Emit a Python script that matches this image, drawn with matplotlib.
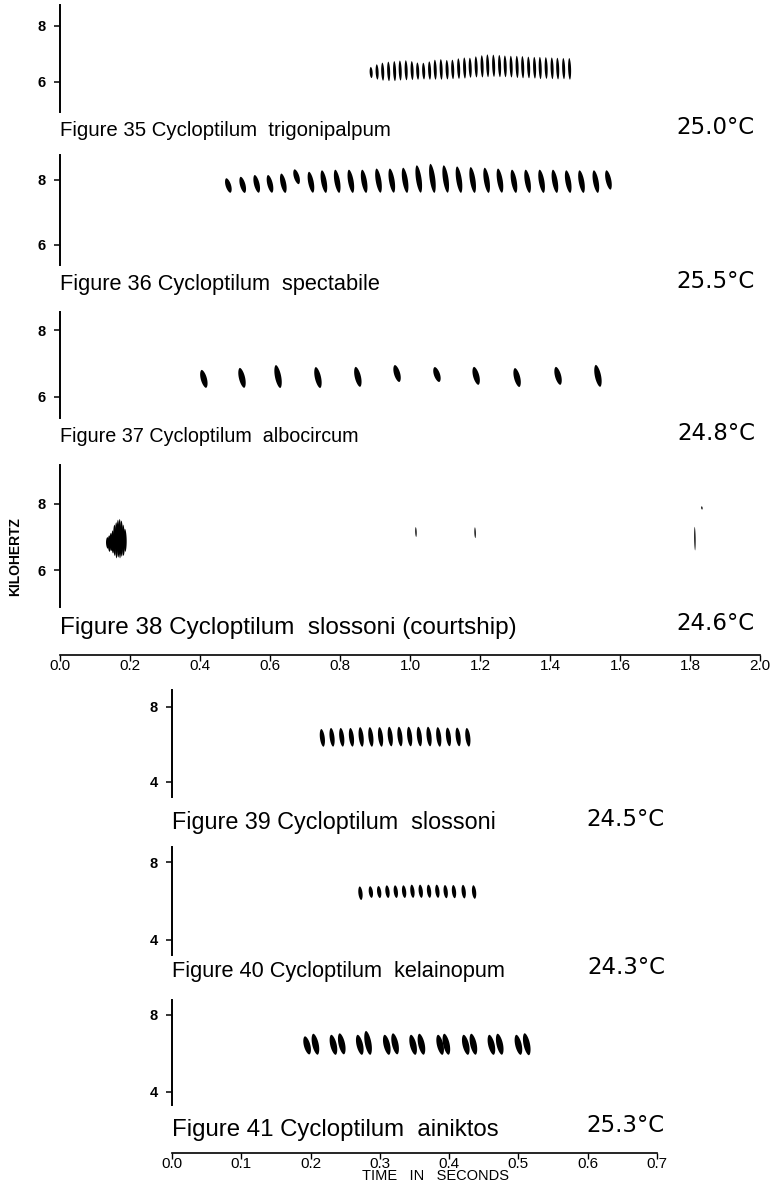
import numpy as np
import matplotlib
matplotlib.use("Agg")
import matplotlib.pyplot as plt

plt.rcParams['font.family'] = ['Liberation Sans', 'DejaVu Sans']

W, H = 774, 1185

# ---- pulse data: time (s), centre frequency (kHz), pulse height (kHz)
t35 = [0.889, 0.906, 0.922, 0.939, 0.956, 0.972, 0.989, 1.006, 1.022, 1.039, 1.056, 1.072,
       1.089, 1.106, 1.122, 1.139, 1.156, 1.172, 1.189, 1.206, 1.222, 1.239, 1.256, 1.272,
       1.289, 1.306, 1.322, 1.339, 1.356, 1.372, 1.389, 1.406, 1.422, 1.439, 1.456]
f35 = [6.33, 6.35, 6.36, 6.37, 6.38, 6.40, 6.41, 6.40, 6.38, 6.38, 6.40, 6.43,
       6.44, 6.43, 6.44, 6.47, 6.49, 6.50, 6.53, 6.55, 6.57, 6.57, 6.56, 6.55,
       6.54, 6.53, 6.52, 6.51, 6.50, 6.49, 6.49, 6.48, 6.47, 6.47, 6.46]
h35 = [0.40, 0.55, 0.65, 0.70, 0.72, 0.72, 0.72, 0.68, 0.62, 0.60, 0.66, 0.72,
       0.74, 0.70, 0.70, 0.74, 0.76, 0.72, 0.76, 0.80, 0.82, 0.80, 0.80, 0.78,
       0.78, 0.80, 0.80, 0.78, 0.78, 0.80, 0.78, 0.78, 0.78, 0.76, 0.78]

t36 = [0.481, 0.522, 0.562, 0.600, 0.638, 0.676, 0.717, 0.754, 0.792, 0.831, 0.869, 0.910,
       0.948, 0.986, 1.025, 1.064, 1.102, 1.140, 1.179, 1.219, 1.257, 1.297, 1.336, 1.376,
       1.414, 1.452, 1.490, 1.531, 1.567]
f36 = [7.83, 7.85, 7.88, 7.88, 7.90, 8.10, 7.93, 7.95, 7.96, 7.96, 7.96, 7.98,
       7.98, 7.99, 8.03, 8.05, 8.03, 8.01, 8.00, 7.99, 7.98, 7.96, 7.96, 7.96,
       7.96, 7.95, 7.95, 7.95, 8.00]
h36 = [0.45, 0.50, 0.55, 0.55, 0.60, 0.46, 0.65, 0.70, 0.72, 0.72, 0.72, 0.75,
       0.75, 0.78, 0.85, 0.90, 0.85, 0.82, 0.80, 0.78, 0.75, 0.72, 0.72, 0.72,
       0.72, 0.70, 0.70, 0.70, 0.60]

t37 = [0.411, 0.520, 0.623, 0.737, 0.851, 0.963, 1.077, 1.189, 1.306, 1.423, 1.537]
f37 = [6.54, 6.57, 6.61, 6.58, 6.60, 6.70, 6.67, 6.63, 6.58, 6.63, 6.63]
h37 = [0.54, 0.60, 0.69, 0.63, 0.60, 0.51, 0.45, 0.54, 0.57, 0.54, 0.66]

# courtship burst (dense cluster) plus isolated ticks
t38 = [0.136, 0.141, 0.146, 0.151, 0.156, 0.161, 0.166, 0.171, 0.176, 0.181, 0.186,
       1.017, 1.186, 1.814, 1.834]
f38 = [6.82, 6.80, 6.85, 6.85, 6.90, 6.90, 6.95, 6.95, 6.95, 6.90, 6.90,
       7.15, 7.13, 6.95, 7.88]
h38 = [0.35, 0.50, 0.55, 0.70, 0.95, 1.10, 1.15, 1.20, 1.10, 0.95, 0.70,
       0.30, 0.33, 0.72, 0.10]

t39 = [0.217, 0.231, 0.245, 0.259, 0.273, 0.287, 0.301, 0.315, 0.329, 0.343, 0.357,
       0.371, 0.385, 0.399, 0.413, 0.427]
f39 = [6.35, 6.38, 6.38, 6.38, 6.40, 6.40, 6.40, 6.42, 6.42, 6.42, 6.42,
       6.42, 6.40, 6.40, 6.40, 6.38]
h39 = [0.95, 1.00, 1.00, 1.00, 1.05, 1.05, 1.05, 1.05, 1.05, 1.05, 1.05,
       1.05, 1.05, 1.00, 1.00, 1.00]

t40 = [0.272, 0.287, 0.299, 0.311, 0.323, 0.335, 0.347, 0.359, 0.371, 0.383, 0.395,
       0.407, 0.421, 0.436]
f40 = [6.40, 6.46, 6.46, 6.48, 6.48, 6.48, 6.50, 6.50, 6.50, 6.50, 6.48,
       6.48, 6.48, 6.46]
h40 = [0.70, 0.60, 0.62, 0.65, 0.65, 0.65, 0.68, 0.68, 0.68, 0.68, 0.68,
       0.68, 0.70, 0.70]

t41 = [0.195, 0.207, 0.233, 0.245, 0.271, 0.283, 0.310, 0.322, 0.348, 0.360,
       0.387, 0.396, 0.424, 0.435, 0.461, 0.473, 0.500, 0.512]
f41 = [6.42, 6.48, 6.45, 6.50, 6.45, 6.55, 6.45, 6.50, 6.45, 6.48,
       6.45, 6.48, 6.45, 6.48, 6.45, 6.48, 6.45, 6.48]
h41 = [0.95, 1.10, 1.05, 1.10, 1.05, 1.25, 1.05, 1.10, 1.05, 1.10,
       1.05, 1.10, 1.05, 1.10, 1.05, 1.10, 1.05, 1.15]

captions = ["Figure 35 Cycloptilum  trigonipalpum", "Figure 36 Cycloptilum  spectabile",
            "Figure 37 Cycloptilum  albocircum", "Figure 38 Cycloptilum  slossoni (courtship)",
            "Figure 39 Cycloptilum  slossoni", "Figure 40 Cycloptilum  kelainopum",
            "Figure 41 Cycloptilum  ainiktos"]
temps = ["25.0°C", "25.5°C", "24.8°C", "24.6°C", "24.5°C", "24.3°C", "25.3°C"]

xticks_top = [0.0, 0.2, 0.4, 0.6, 0.8, 1.0, 1.2, 1.4, 1.6, 1.8, 2.0]
xticks_bot = [0.0, 0.1, 0.2, 0.3, 0.4, 0.5, 0.6, 0.7]

fig = plt.figure(figsize=(W / 100, H / 100), dpi=100)


def box(x0, x1, y0, y1):
    return [x0 / W, 1 - y1 / H, (x1 - x0) / W, (y1 - y0) / H]


def pulse(ax, t, f, w, h, slant):
    u = np.linspace(-1, 1, 40)
    half = 0.5 * w * (1 - u ** 2) ** 0.6
    xc = t - 0.5 * slant * u
    yy = f + 0.5 * h * u
    ax.fill(np.concatenate([xc - half, (xc + half)[::-1]]),
            np.concatenate([yy, yy[::-1]]), color="black", lw=0)


# layout: (x0, x1, top, bottom, ylim, yticks, width, slant, data)
panels = [
    (60, 760, 5, 112, (4.92, 8.74), [6, 8], 0.0085, 0.002, (t35, f35, h35)),
    (60, 760, 155, 265, (5.38, 8.77), [6, 8], 0.016, 0.011, (t36, f36, h36)),
    (60, 760, 312, 418, (5.37, 8.54), [6, 8], 0.018, 0.012, (t37, f37, h37)),
    (60, 760, 465, 607, (4.88, 9.18), [6, 8], 0.009, 0.001, (t38, f38, h38)),
    (172, 657, 690, 797, (3.20, 8.90), [4, 8], 0.0070, 0.003, (t39, f39, h39)),
    (172, 657, 847, 955, (3.23, 8.77), [4, 8], 0.0060, 0.002, (t40, f40, h40)),
    (172, 657, 1000, 1105, (3.32, 8.78), [4, 8], 0.0095, 0.006, (t41, f41, h41)),
]

for x0, x1, y0, y1, ylim, yt, w, sl, (ts, fs, hs) in panels:
    ax = fig.add_axes(box(x0, x1, y0, y1))
    xmax = 2.0 if x0 == 60 else 0.7
    ax.set_xlim(0, xmax)
    ax.set_ylim(*ylim)
    for s in ["top", "right", "bottom"]:
        ax.spines[s].set_visible(False)
    ax.spines["left"].set_linewidth(1.4)
    ax.set_xticks([])
    ax.set_yticks(yt)
    ax.set_yticklabels([str(v) for v in yt], fontsize=10.5, fontweight="bold")
    ax.tick_params(axis="y", length=4, width=1.1, pad=6)
    ax.patch.set_alpha(0)
    for t, f, h in zip(ts, fs, hs):
        ww = w if h > 0.2 else 0.003
        if ts is t38 and t > 1.0:
            ww = 0.004
        pulse(ax, t, f, ww, h, sl)

# time axes
for x0, x1, y, ticks, xmax in [(60, 760, 654, xticks_top, 2.0), (172, 657, 1152, xticks_bot, 0.7)]:
    ax = fig.add_axes(box(x0, x1, y, y + 0.5))
    ax.set_xlim(0, xmax)
    ax.set_yticks([])
    for s in ["top", "right", "left"]:
        ax.spines[s].set_visible(False)
    ax.spines["bottom"].set_linewidth(1.2)
    ax.set_xticks(ticks)
    ax.set_xticklabels(["%.1f" % v for v in ticks], fontsize=11)
    ax.tick_params(axis="x", length=4, width=1, pad=-1)
    ax.patch.set_alpha(0)

# captions and temperatures
cap_y = [130, 285, 437, 628, 822, 972, 1130]
tmp_y = [127, 282, 434, 624, 819, 968, 1125]
cap_size = [14.7, 15.7, 14.2, 17.5, 16.8, 15.7, 17.3]
for i in range(7):
    left = 60 if i < 4 else 172
    right = 755 if i < 4 else 665
    fig.text(left / W, 1 - cap_y[i] / H, captions[i], fontsize=cap_size[i], va="center", ha="left")
    fig.text(right / W, 1 - tmp_y[i] / H, temps[i], fontsize=16.5, va="center", ha="right",
             family="DejaVu Sans")

fig.text(15 / W, 1 - 557 / H, "KILOHERTZ", rotation=90, fontsize=10, fontweight="bold",
         va="center", ha="center")
fig.text(435 / W, 1 - 1176 / H, "TIME   IN   SECONDS", fontsize=10.5, va="center", ha="center")

fig.savefig("out.png", dpi=100)
